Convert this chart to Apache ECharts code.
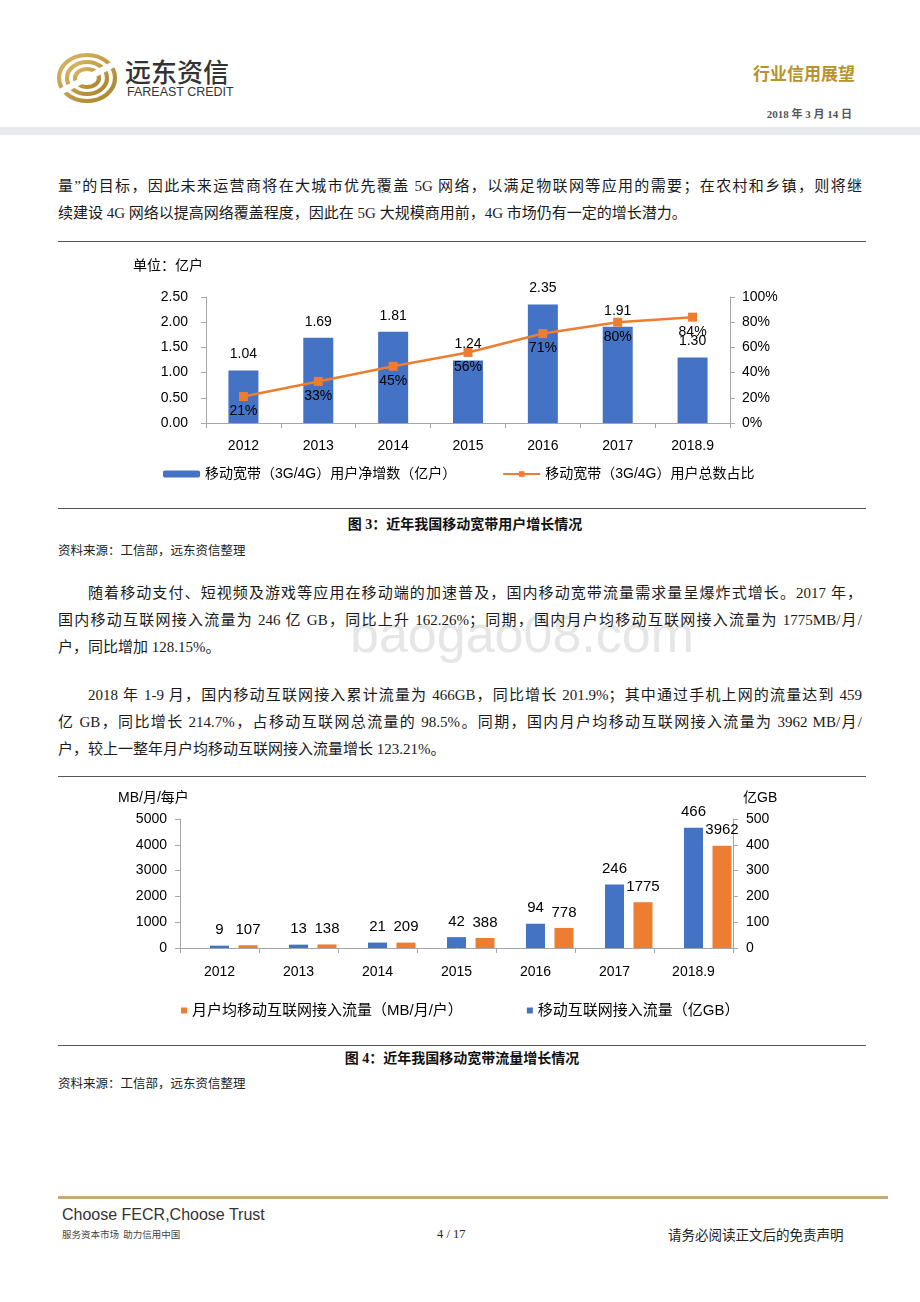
<!DOCTYPE html>
<html>
<head>
<meta charset="utf-8">
<script src="https://cdn.jsdelivr.net/npm/echarts@6/dist/echarts.min.js"></script>
<style>
  html,body{margin:0;padding:0;background:#fff;}
  #page{position:relative;width:920px;height:1302px;overflow:hidden;background:#fff;}
  .t{position:absolute;white-space:nowrap;transform:translateY(-50%);}
  .body{font-family:"Liberation Serif","Noto Sans CJK SC",serif;font-size:15px;color:#1a1a1a;line-height:27px;}
  .line{position:absolute;left:58px;width:804px;white-space:normal;transform:translateY(-50%);}
  .just{text-align:justify;text-align-last:justify;}
  .hr{position:absolute;left:58px;width:808px;height:1px;background:#555;}
  #chart{position:absolute;left:0;top:0;width:920px;height:1302px;z-index:2;}
</style>
</head>
<body>
<div id="page">
  <!-- header -->
  <svg style="position:absolute;left:56px;top:52px;" width="62" height="52" viewBox="0 0 62 52">
    <defs>
      <linearGradient id="g" x1="0" y1="0" x2="1" y2="1">
        <stop offset="0" stop-color="#d9b867"/><stop offset="1" stop-color="#a9822c"/>
      </linearGradient>
    </defs>
    <g fill="none" stroke="url(#g)" stroke-width="4.2">
      <ellipse cx="31" cy="26" rx="28" ry="23"/>
      <ellipse cx="31" cy="26" rx="20" ry="16"/>
      <ellipse cx="31" cy="26" rx="12" ry="9"/>
    </g>
    <path d="M4 40 L58 12" stroke="#fff" stroke-width="6"/>
  </svg>
  <div class="t" style="left:125px;top:70px;font-family:'Noto Sans CJK SC';font-size:26px;color:#333;font-weight:500;">远东资信</div>
  <div class="t" style="left:127px;top:92px;font-family:'Liberation Sans';font-size:12.5px;color:#333;">FAREAST CREDIT</div>
  <div class="t" style="right:65px;top:72px;font-family:'Noto Sans CJK SC';font-size:17px;color:#b8922f;font-weight:700;">行业信用展望</div>
  <div class="t" style="right:68px;top:113px;font-family:'Liberation Serif','Noto Sans CJK SC';font-size:11px;color:#555;font-weight:700;">2018 年 3 月 14 日</div>
  <div style="position:absolute;left:0;top:127px;width:920px;height:8px;background:#e8e9ea;"></div>

  <!-- watermark -->
  <div class="t" style="left:350px;top:634px;font-family:'Liberation Sans';font-size:52px;color:#e6e6e6;z-index:0;">baogao08.com</div>

  <!-- paragraph 1 -->
  <div class="body">
    <div class="line just" style="top:186px;">量”的目标，因此未来运营商将在大城市优先覆盖 5G 网络，以满足物联网等应用的需要；在农村和乡镇，则将继</div>
    <div class="line" style="top:213px;">续建设 4G 网络以提高网络覆盖程度，因此在 5G 大规模商用前，4G 市场仍有一定的增长潜力。</div>
  </div>
  <div class="hr" style="top:241px;"></div>
  <div class="hr" style="top:508px;"></div>
  <div class="t" style="left:0;width:930px;text-align:center;top:523px;font-family:'Liberation Serif','Noto Sans CJK SC';font-size:14px;font-weight:700;color:#111;">图 3：近年我国移动宽带用户增长情况</div>
  <div class="t" style="left:58px;top:549px;font-family:'Noto Sans CJK SC';font-size:12.5px;color:#222;">资料来源：工信部，远东资信整理</div>

  <div class="body">
    <div class="line just" style="top:593px;left:88px;width:774px;">随着移动支付、短视频及游戏等应用在移动端的加速普及，国内移动宽带流量需求量呈爆炸式增长。2017 年，</div>
    <div class="line just" style="top:620px;">国内移动互联网接入流量为 246 亿 GB，同比上升 162.26%；同期，国内月户均移动互联网接入流量为 1775MB/月/</div>
    <div class="line" style="top:647px;">户，同比增加 128.15%。</div>
    <div class="line just" style="top:695px;left:88px;width:774px;">2018 年 1-9 月，国内移动互联网接入累计流量为 466GB，同比增长 201.9%；其中通过手机上网的流量达到 459</div>
    <div class="line just" style="top:722px;">亿 GB，同比增长 214.7%，占移动互联网总流量的 98.5%。同期，国内月户均移动互联网接入流量为 3962 MB/月/</div>
    <div class="line" style="top:749px;">户，较上一整年月户均移动互联网接入流量增长 123.21%。</div>
  </div>
  <div class="hr" style="top:776px;"></div>
  <div class="hr" style="top:1045px;"></div>
  <div class="t" style="left:0;width:924px;text-align:center;top:1057px;font-family:'Liberation Serif','Noto Sans CJK SC';font-size:14px;font-weight:700;color:#111;">图 4：近年我国移动宽带流量增长情况</div>
  <div class="t" style="left:58px;top:1082px;font-family:'Noto Sans CJK SC';font-size:12.5px;color:#222;">资料来源：工信部，远东资信整理</div>

  <!-- footer -->
  <div style="position:absolute;left:58px;top:1196px;width:830px;height:3px;background:#c9aa74;"></div>
  <div class="t" style="left:62px;top:1215px;font-family:'Liberation Sans Narrow','Liberation Sans';font-size:16px;color:#333;">Choose FECR,Choose Trust</div>
  <div class="t" style="left:62px;top:1234px;font-family:'Noto Sans CJK SC';font-size:9.5px;color:#444;">服务资本市场&nbsp;&nbsp;助力信用中国</div>
  <div class="t" style="left:437px;top:1234px;font-family:'Liberation Serif';font-size:12.5px;color:#222;">4 / 17</div>
  <div class="t" style="left:668px;top:1234px;font-family:'Noto Sans CJK SC';font-size:13.5px;color:#222;">请务必阅读正文后的免责声明</div>

  <div id="chart"></div>
</div>
<script>
// ---- data ----
const years = ['2012', '2013', '2014', '2015', '2016', '2017', '2018.9'];
const netAddsYi = [1.04, 1.69, 1.81, 1.24, 2.35, 1.91, 1.30];      // 移动宽带用户净增数（亿户）
const sharePct = [21, 33, 45, 56, 71, 80, 84];                       // 用户总数占比 %
const trafficYiGB = [9, 13, 21, 42, 94, 246, 466];                   // 移动互联网接入流量（亿GB）
const perUserMB = [107, 138, 209, 388, 778, 1775, 3962];             // 月户均流量（MB/月/户）
const spacer = [null, null, null, null, null, null, null];           // empty layout slot (no marks)

const name1 = '移动宽带（3G/4G）用户净增数（亿户）';
const name2 = '移动宽带（3G/4G）用户总数占比';
const name3 = '月户均移动互联网接入流量（MB/月/户）';
const name4 = '移动互联网接入流量（亿GB）';

const BLUE = '#4472C4', ORANGE = '#ED7D31', AXIS = '#a6a6a6';
const FONT = "'Liberation Sans','Noto Sans CJK SC',sans-serif";

function yAx(extra) {
  return Object.assign({
    type: 'value',
    axisLine: {show: true, lineStyle: {color: AXIS, width: 1}},
    axisTick: {show: true, length: 5, lineStyle: {color: AXIS}},
    splitLine: {show: false}
  }, extra);
}
function xAx(extra) {
  return Object.assign({
    type: 'category', data: years,
    axisLine: {show: true, lineStyle: {color: AXIS, width: 1}},
    axisTick: {show: true, length: 5, lineStyle: {color: AXIS}}
  }, extra);
}
const lab = (o) => Object.assign({color: '#000', fontSize: 14, fontFamily: FONT}, o);

const chart = echarts.init(document.getElementById('chart'), null, {renderer: 'canvas'});
chart.setOption({
  animation: false,
  textStyle: {fontFamily: FONT},
  grid: [
    {left: 206, top: 297, width: 524, height: 126},
    {left: 180, top: 819, width: 553, height: 129}
  ],
  xAxis: [
    xAx({gridIndex: 0, axisLabel: lab({margin: 16})}),
    xAx({gridIndex: 1, axisLabel: lab({margin: 17})})
  ],
  yAxis: [
    yAx({gridIndex: 0, min: 0, max: 2.5, interval: 0.5,
      axisLabel: lab({margin: 18, formatter: v => v.toFixed(2)})}),
    yAx({gridIndex: 0, position: 'right', min: 0, max: 100, interval: 20,
      axisLabel: lab({margin: 12, formatter: '{value}%'})}),
    yAx({gridIndex: 1, min: 0, max: 5000, interval: 1000,
      axisLabel: lab({margin: 13, formatter: v => String(v)})}),
    yAx({gridIndex: 1, position: 'right', min: 0, max: 500, interval: 100,
      axisLabel: lab({margin: 13, formatter: v => String(v)})})
  ],
  legend: [
    {data: [name1, name2], left: 158, top: 462, itemWidth: 37, itemHeight: 7, itemGap: 46,
      textStyle: {fontSize: 14, color: '#000', fontFamily: FONT}, selectedMode: false},
    {data: [name3, name4], left: 176, top: 998, itemWidth: 6, itemHeight: 6, itemGap: 64, icon: 'rect',
      textStyle: {fontSize: 15, color: '#000', fontFamily: FONT}, selectedMode: false}
  ],
  graphic: [
    {type: 'text', left: 133, top: 259, style: {text: '单位：亿户', fontSize: 14, fill: '#000', fontFamily: FONT}},
    {type: 'text', left: 118, top: 791, style: {text: 'MB/月/每户', fontSize: 14, fill: '#000', fontFamily: FONT}},
    {type: 'text', left: 743, top: 791, style: {text: '亿GB', fontSize: 14, fill: '#000', fontFamily: FONT}}
  ],
  series: [
    {name: name1, type: 'bar', xAxisIndex: 0, yAxisIndex: 0, data: netAddsYi, barWidth: 30,
      itemStyle: {color: BLUE},
      label: {show: true, position: 'top', distance: 9, color: '#000', fontSize: 14, fontFamily: FONT,
        formatter: p => p.value.toFixed(2)}},
    {name: name2, type: 'line', xAxisIndex: 0, yAxisIndex: 1, data: sharePct,
      symbol: 'rect', symbolSize: 9, lineStyle: {color: ORANGE, width: 2.5}, itemStyle: {color: ORANGE},
      label: {show: true, position: 'bottom', distance: 3, color: '#000', fontSize: 14, fontFamily: FONT,
        formatter: '{c}%'}},
    {name: '', type: 'bar', xAxisIndex: 1, yAxisIndex: 2, data: spacer, barWidth: 19, barGap: '50%', silent: true},
    {name: name4, type: 'bar', xAxisIndex: 1, yAxisIndex: 3, data: trafficYiGB, barWidth: 19, barGap: '50%',
      itemStyle: {color: BLUE},
      label: {show: true, position: 'top', distance: 8, color: '#000', fontSize: 15, fontFamily: FONT}},
    {name: name3, type: 'bar', xAxisIndex: 1, yAxisIndex: 2, data: perUserMB, barWidth: 19, barGap: '50%',
      itemStyle: {color: ORANGE},
      label: {show: true, position: 'top', distance: 8, color: '#000', fontSize: 15, fontFamily: FONT}}
  ]
});
</script>
</body>
</html>
